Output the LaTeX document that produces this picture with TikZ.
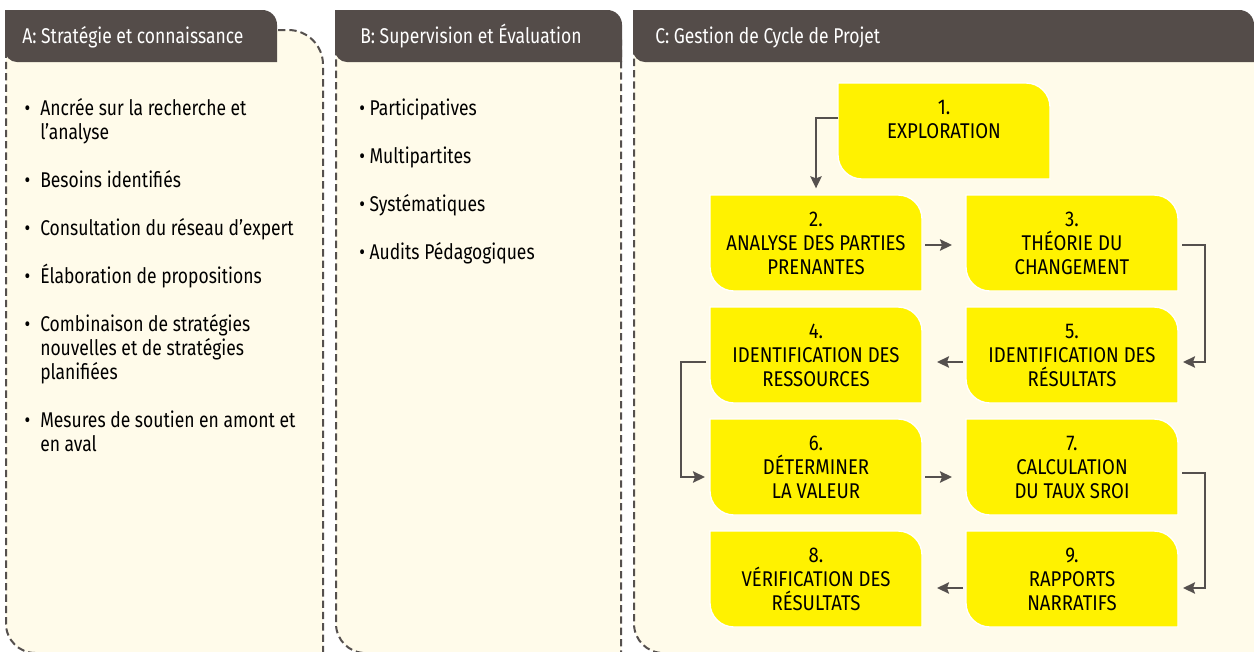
\documentclass[tikz,border=0pt]{standalone}
\usepackage{fontspec}
\setmainfont{Fira Sans}[FakeStretch=0.82]
\newfontfamily\boxfont{Fira Sans}[FakeStretch=0.87]
\usetikzlibrary{arrows.meta,calc}
\definecolor{hdr}{RGB}{84,76,73}
\definecolor{cream}{RGB}{255,251,234}
\definecolor{ylw}{RGB}{255,242,0}
\definecolor{lin}{RGB}{85,80,78}
\pgfdeclarelayer{bg}
\pgfsetlayers{bg,main}
\newcommand\fst{\rule{0pt}{15pt}}
\newcommand\boxtext[1]{\parbox[c][72pt][t]{159pt}{\centering\rule{0pt}{23.5pt}#1}}
% leaf shape: #1 options, #2 nw, #3 se, #4 top-right radius, #5 bottom-left radius
\newcommand\leaf[5]{%
  \path[#1] (#2) -- ([xshift=-#4]#2 -| #3) arc[start angle=90,end angle=0,radius=#4]
    -- (#3) -- ([xshift=#5]#2 |- #3) arc[start angle=270,end angle=180,radius=#5] -- cycle;}
\tikzset{
  ybox/.style={inner sep=0pt, outer sep=0pt, font=\boxfont\fontsize{16}{18}\selectfont, text=black},
  litem/.style={anchor=north west, align=left, inner sep=0pt, font=\fontsize{16}{18}\selectfont, text=black},
  htext/.style={anchor=base west, inner sep=0pt, font=\fontsize{16}{18}\selectfont, text=white},
  arr/.style={draw=lin, line width=1.5pt, -{Stealth[length=9pt,width=8.5pt,inset=1.5pt]}},
  panel/.style={fill=cream, draw=lin, line width=1.5pt, dash pattern=on 5.5pt off 3pt},
  headfill/.style={fill=hdr},
  leaffill/.style={fill=ylw, draw=white, line width=1pt}
}
\begin{document}
\begin{tikzpicture}[x=0.75pt,y=-0.75pt]
\useasboundingbox (0,0) rectangle (1254,651);
% corner coordinates of panels and headers
\coordinate (Anw) at (6,30);   \coordinate (Ase) at (323,653);
\coordinate (HAnw) at (5,10);  \coordinate (HAse) at (277,62);
\coordinate (Bnw) at (336,40); \coordinate (Bse) at (621,653);
\coordinate (HBnw) at (335,10);\coordinate (HBse) at (622,62);
\coordinate (Cnw) at (634,40); \coordinate (Cse) at (1270,653);
\coordinate (HCnw) at (633,10);\coordinate (HCse) at (1254,62);

% header texts
\node[htext] (hA) at (22,43) {A: Stratégie et connaissance};
\node[htext] (hB) at (360,43) {B: Supervision et Évaluation};
\node[htext] (hC) at (655,43) {C: Gestion de Cycle de Projet};

% list A
\node[litem] (a1) at (40,95)  {\fst\llap{•\hspace{7.5pt}}Ancrée sur la recherche et\\l’analyse};
\node[litem] (a2) at (40,167) {\fst\llap{•\hspace{7.5pt}}Besoins identifiés};
\node[litem] (a3) at (40,215) {\fst\llap{•\hspace{7.5pt}}Consultation du réseau d’expert};
\node[litem] (a4) at (40,263) {\fst\llap{•\hspace{7.5pt}}Élaboration de propositions};
\node[litem] (a5) at (40,311) {\fst\llap{•\hspace{7.5pt}}Combinaison de stratégies\\nouvelles et de stratégies\\planifiées};
\node[litem] (a6) at (40,407) {\fst\llap{•\hspace{7.5pt}}Mesures de soutien en amont et\\en aval};

% list B
\node[litem] (p1) at (359,95)  {\fst• Participatives};
\node[litem] (p2) at (359,143) {\fst• Multipartites};
\node[litem] (p3) at (359,191) {\fst• Systématiques};
\node[litem] (p4) at (359,239) {\fst• Audits Pédagogiques};

% boxes
\node[ybox] (b1) at (944,131) {\boxtext{1.\\EXPLORATION}};
\node[ybox] (b2) at (816,243) {\boxtext{2.\\ANALYSE DES PARTIES\\PRENANTES}};
\node[ybox] (b3) at (1072,243) {\boxtext{3.\\THÉORIE DU\\CHANGEMENT}};
\node[ybox] (b4) at (816,355) {\boxtext{4.\\IDENTIFICATION DES\\RESSOURCES}};
\node[ybox] (b5) at (1072,355) {\boxtext{5.\\IDENTIFICATION DES\\RÉSULTATS}};
\node[ybox] (b6) at (816,467) {\boxtext{6.\\DÉTERMINER\\LA VALEUR}};
\node[ybox] (b7) at (1072,467) {\boxtext{7.\\CALCULATION\\DU TAUX SROI}};
\node[ybox] (b8) at (816,579) {\boxtext{8.\\VÉRIFICATION DES\\RÉSULTATS}};
\node[ybox] (b9) at (1072,579) {\boxtext{9.\\RAPPORTS\\NARRATIFS}};

% connectors
\draw[arr] ([yshift=9.75pt]b1.west) -| ([yshift=5pt]b2.north);
\draw[arr] ([xshift=2.25pt,yshift=-1.5pt]b2.east) -- ([xshift=-10.5pt,yshift=-1.5pt]b3.west);
\draw[arr] ([xshift=3pt,yshift=-1.5pt]b3.east) -- ++(17.25pt,0pt) |- ([xshift=3.75pt,yshift=-5.25pt]b5.east);
\draw[arr] ([xshift=-2.25pt,yshift=-5.25pt]b5.west) -- ([xshift=11.25pt,yshift=-5.25pt]b4.east);
\draw[arr] ([xshift=-3pt,yshift=-5.25pt]b4.west) -- ++(-18.75pt,0pt) |- ([xshift=-3.75pt,yshift=-7.5pt]b6.west);
\draw[arr] ([xshift=2.25pt,yshift=-7.5pt]b6.east) -- ([xshift=-10.5pt,yshift=-7.5pt]b7.west);
\draw[arr] ([xshift=3pt,yshift=-4.5pt]b7.east) -- ++(17.25pt,0pt) |- ([xshift=3.75pt,yshift=-6.75pt]b9.east);
\draw[arr] ([xshift=-2.25pt,yshift=-6.75pt]b9.west) -- ([xshift=11.25pt,yshift=-6.75pt]b8.east);

\begin{pgfonlayer}{bg}
\clip (0,0) rectangle (1254,651);
\fill[white] (0,0) rectangle (1254,651);
\leaf{panel}{Anw}{Ase}{26pt}{22pt}
\leaf{panel}{Bnw}{Bse}{0.01pt}{22pt}
\leaf{panel}{Cnw}{Cse}{0.01pt}{22pt}
\leaf{headfill}{HAnw}{HAse}{11pt}{9pt}
\leaf{headfill}{HBnw}{HBse}{11pt}{9pt}
\leaf{headfill}{HCnw}{HCse}{11pt}{9pt}
\foreach \b in {b1,b2,b3,b4,b5,b6,b7,b8,b9}{
  \leaf{leaffill}{\b.north west}{\b.south east}{18pt}{18pt}
}
\end{pgfonlayer}
\end{tikzpicture}
\end{document}
